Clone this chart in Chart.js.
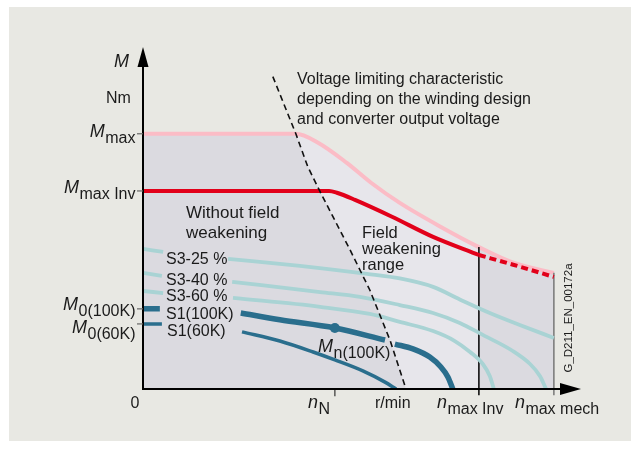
<!DOCTYPE html>
<html>
<head>
<meta charset="utf-8">
<script src="https://cdn.jsdelivr.net/npm/chart.js@4.4.1/dist/chart.umd.min.js"></script>
<style>
  html, body { margin: 0; padding: 0; background: #fff; }
  canvas { display: block; }
</style>
</head>
<body>
<canvas id="chart" width="640" height="453"></canvas>
<script>
// speed in % of n_max mech, torque in % of M_max
const N_N = 46.7, N_MAX_INV = 81.75, N_MAX_MECH = 100;
const M_MAX = 100, M_MAX_INV = 77.6, M0_100K = 31.4, M0_60K = 25.5;

// M_max envelope
const envX = [0, 37.2, 42.6, 49.6, 55.5, 62.5, 72.5, 81.75, 90.3, 100];
const envY = [100, 100, 96.5, 88.6, 80.8, 72.9, 63.5, 55.6, 49.4, 45.5];

// M_max Inv (solid up to n_max Inv, dashed beyond)
const invX = [0, 45.3, 47.2, 51.6, 60.6, 70.6, 81.75];
const invY = [77.6, 77.6, 76.9, 74.1, 67.5, 59.6, 52.5];
const invDashX = [81.75, 90.3, 100];
const invDashY = [52.5, 48.6, 43.9];

// voltage limiting characteristic
const voltX = [31.6, 37.2, 40.1, 43.1, 50.4, 55.2, 60.1, 64.0];
const voltY = [122.4, 100, 87.1, 77.3, 54.5, 38.8, 19.2, 0];

// duty cycle curves (null = gap for label)
const s325X = [0, 4.9, 12, 20.7, 38.2, 54.5, 62.5, 70.6, 77.1, 84.4, 91.7, 100];
const s325Y = [54.9, 53.7, null, 51.0, 48.2, 45.1, 43.3, 40.0, 35.1, 29.8, 25.1, 20.0];
const s340X = [0, 4.6, 12, 21.7, 43.1, 52.8, 62.5, 70.6, 77.1, 82.7, 90.0, 94.2, 96.6, 98.1];
const s340Y = [45.5, 44.3, null, 42.0, 38.0, 36.1, 32.9, 29.8, 25.9, 21.2, 14.9, 9.8, 5.1, 0];
const s360X = [0, 4.9, 12, 21.9, 43.1, 55.2, 62.5, 70.6, 75.9, 79.6, 82.7, 84.4, 85.4];
const s360Y = [38.4, 37.6, null, 35.7, 32.2, 29.4, 26.3, 22.7, 18.8, 14.5, 9.8, 5.1, 0];
const s1_100X = [0, 4.1, 12, 23.8, 33.3, 46.7, 58.9, 60.1, 61.3, 65.7, 69.8, 72.5, 74.2, 75.4];
const s1_100Y = [31.4, 31.4, null, 29.8, 27.1, 23.9, 19.2, null, 17.6, 15.7, 12.5, 8.6, 4.7, 0];
const s1_60X = [0, 4.6, 12, 24.1, 33.3, 41.4, 46.7, 53.5, 58.9, 61.6];
const s1_60Y = [25.5, 25.5, null, 22.4, 18.8, 14.5, 11.4, 7.1, 2.7, 0];

// rated torque point M_n(100K)
const mnX = [46.7];
const mnY = [23.9];

const TEXT = '#1b1b1b';
const FONT = '"Liberation Sans", Arial, sans-serif';

const pts = (xs, ys) => xs.map((x, i) => ({ x, y: ys[i] }));

// light field-weakening region: voltage line, envelope, n_max Inv
const lightRegion = [
  ...pts(envX, envY).filter(p => p.x >= 37.2 && p.x <= N_MAX_INV),
  { x: N_MAX_INV, y: 0 },
  ...pts(voltX, voltY).filter(p => p.y <= 100).reverse(),
];

function line(data, color, width, extra) {
  return Object.assign({
    data, borderColor: color, borderWidth: width, pointRadius: 0,
    fill: false, cubicInterpolationMode: 'monotone', borderCapStyle: 'butt', order: 1,
  }, extra || {});
}

const datasets = [
  line(pts(mnX, mnY), '#2a6e8d', 0, { pointRadius: 5, pointBackgroundColor: '#2a6e8d', showLine: false, order: 0 }),
  line(pts(voltX, voltY), '#111', 1.6, { borderDash: [6, 4], cubicInterpolationMode: 'default', order: 0 }),
  line(pts(invX, invY), '#e2001a', 4, { order: 1 }),
  line(pts(invDashX, invDashY), '#e2001a', 4, { borderDash: [7, 4], order: 1 }),
  line(pts(s1_60X, s1_60Y), '#2a6e8d', 3.5),
  line(pts(s1_100X, s1_100Y), '#2a6e8d', 5.5),
  line(pts(s360X, s360Y), '#a9d3d4', 3.8, { order: 2 }),
  line(pts(s340X, s340Y), '#a9d3d4', 3.8, { order: 2 }),
  line(pts(s325X, s325Y), '#a9d3d4', 3.8, { order: 2 }),
  line([{ x: N_MAX_INV, y: -2.4 }, { x: N_MAX_INV, y: 55.6 }], '#000', 1.5, { clip: false, cubicInterpolationMode: 'default', order: 3 }),
  line([{ x: N_MAX_MECH, y: -2.4 }, { x: N_MAX_MECH, y: 45.5 }], '#777', 1.5, { clip: false, cubicInterpolationMode: 'default', order: 3 }),
  line([{ x: N_N, y: -2.8 }, { x: N_N, y: 0 }], '#333', 1.2, { clip: false, cubicInterpolationMode: 'default', order: 3 }),
  line(pts(envX, envY), '#fbbcc6', 4, { order: 5 }),
  line(lightRegion, 'rgba(0,0,0,0)', 0, { fill: 'shape', backgroundColor: '#e7e6eb', cubicInterpolationMode: 'default', order: 9 }),
  line(pts(envX, envY), 'rgba(0,0,0,0)', 0, { fill: 'origin', backgroundColor: '#dbdae0', order: 10 }),
];

function subText(c, main, sub, x, y, align, mainSize) {
  c.font = `italic ${mainSize || 18}px ${FONT}`;
  const w1 = c.measureText(main).width;
  c.font = `16px ${FONT}`;
  const w2 = c.measureText(sub).width;
  let left = align === 'right' ? x - w1 - w2 : x;
  c.textAlign = 'left';
  c.textBaseline = 'alphabetic';
  c.font = `italic ${mainSize || 18}px ${FONT}`;
  c.fillText(main, left, y);
  c.font = `16px ${FONT}`;
  c.fillText(sub, left + w1 + 0.5, y + 6);
}

const decor = {
  id: 'decor',
  beforeDraw(chart) {
    const c = chart.ctx;
    c.save();
    c.fillStyle = '#e8e8e3';
    c.fillRect(9, 7, 622, 434);
    c.restore();
  },
  afterDraw(chart) {
    const c = chart.ctx;
    const { x, y } = chart.scales;
    const area = chart.chartArea;
    const X = v => x.getPixelForValue(v), Y = v => y.getPixelForValue(v);
    const x0 = X(0), y0 = Y(0);
    c.save();

    // axes
    c.strokeStyle = '#000';
    c.lineWidth = 2;
    c.beginPath();
    c.moveTo(x0, y0 + 1); c.lineTo(x0, area.top + 15);
    c.moveTo(x0 - 1, y0); c.lineTo(area.right - 15, y0);
    c.stroke();
    c.fillStyle = '#000';
    c.beginPath();
    c.moveTo(x0, area.top); c.lineTo(x0 - 5.5, area.top + 20); c.lineTo(x0 + 5.5, area.top + 20);
    c.closePath(); c.fill();
    c.beginPath();
    c.moveTo(area.right, y0); c.lineTo(area.right - 21, y0 - 6); c.lineTo(area.right - 21, y0 + 6);
    c.closePath(); c.fill();

    // y ticks
    c.strokeStyle = '#666';
    c.lineWidth = 1.2;
    [M_MAX, M_MAX_INV, M0_100K, M0_60K].forEach(v => {
      c.beginPath(); c.moveTo(x0 - 6, Y(v)); c.lineTo(x0, Y(v)); c.stroke();
    });

    c.fillStyle = TEXT;
    // y labels
    c.font = `italic 18px ${FONT}`;
    c.textAlign = 'left';
    c.fillText('M', 114, 67);
    c.font = `16px ${FONT}`;
    c.fillText('Nm', 106, 103);
    subText(c, 'M', 'max', 135, Y(M_MAX) + 3, 'right');
    subText(c, 'M', 'max Inv', 135, Y(M_MAX_INV) + 2, 'right');
    subText(c, 'M', '0(100K)', 135, Y(M0_100K) + 1, 'right');
    subText(c, 'M', '0(60K)', 135, Y(M0_60K) + 9, 'right');

    // x labels
    c.font = `16px ${FONT}`;
    c.textAlign = 'center';
    c.fillText('0', x0 - 8, 408);
    c.textAlign = 'left';
    c.fillText('r/min', 375, 408);
    subText(c, 'n', 'N', X(N_N) - 27, 408, 'left');
    subText(c, 'n', 'max Inv', X(N_MAX_INV) - 42, 408, 'left');
    subText(c, 'n', 'max mech', X(N_MAX_MECH) - 39, 408, 'left');

    // annotations
    c.font = `16px ${FONT}`;
    c.textAlign = 'left';
    c.fillText('Voltage limiting characteristic', 297, 84);
    c.fillText('depending on the winding design', 297, 104);
    c.fillText('and converter output voltage', 297, 124);
    c.font = `17px ${FONT}`;
    c.fillText('Without field', 186, 218);
    c.fillText('weakening', 186, 238);
    c.font = `16.5px ${FONT}`;
    c.fillText('Field', 362, 238);
    c.fillText('weakening', 362, 254);
    c.fillText('range', 362, 270);
    c.font = `16px ${FONT}`;
    c.fillText('S3-25 %', 166, 264);
    c.fillText('S3-40 %', 166, 285);
    c.fillText('S3-60 %', 166, 301);
    c.fillText('S1(100K)', 166, 319);
    c.fillText('S1(60K)', 167, 336);
    subText(c, 'M', 'n(100K)', 318, 352, 'left');

    // drawing id
    c.save();
    c.translate(572, 318);
    c.rotate(-Math.PI / 2);
    c.font = `11.5px ${FONT}`;
    c.textAlign = 'center';
    c.fillText('G_D211_EN_00172a', 0, 0);
    c.restore();

    c.restore();
  },
};

new Chart(document.getElementById('chart'), {
  type: 'line',
  data: { datasets },
  options: {
    responsive: false,
    animation: false,
    layout: { padding: { left: 143, right: 59, top: 47, bottom: 64 } },
    plugins: { legend: { display: false }, tooltip: { enabled: false } },
    scales: {
      x: { type: 'linear', min: 0, max: 106.6, display: false },
      y: { type: 'linear', min: 0, max: 134, display: false },
    },
  },
  plugins: [decor],
});
</script>
</body>
</html>
